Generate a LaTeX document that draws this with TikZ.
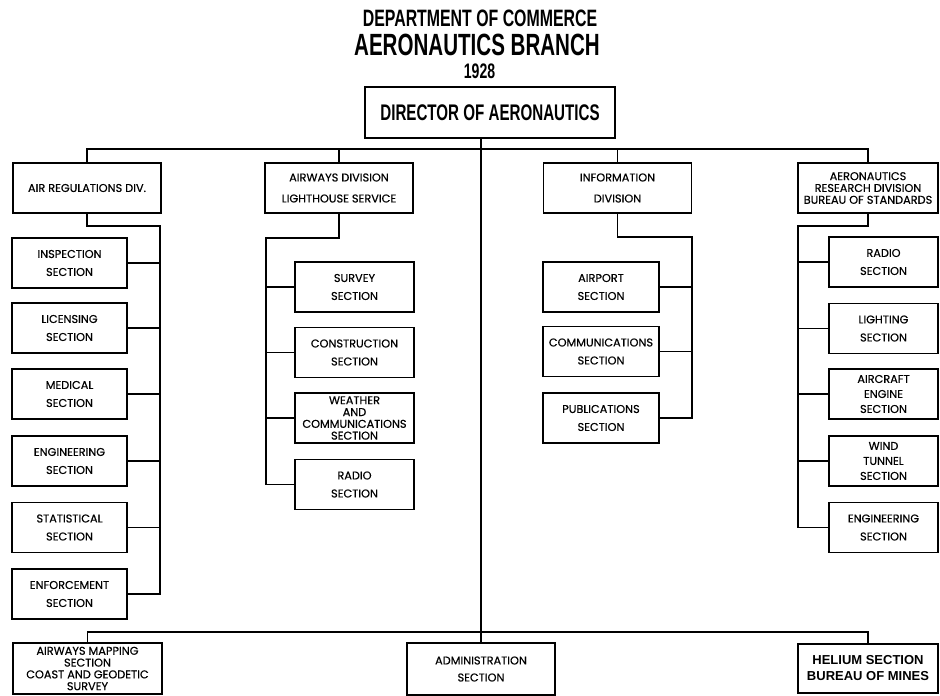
\documentclass[tikz,border=0pt]{standalone}
\usepackage{fontspec}
\newfontfamily\secfont[FakeBold=0.5]{Poppins}
\newfontfamily\headfont[FakeStretch=0.67]{Liberation Sans}
\newfontfamily\heliumfont{Liberation Sans}

\begin{document}
\begin{tikzpicture}[x=1pt, y=-1pt,
		box/.style={draw, line width=1.1pt, inner sep=0pt, align=center,
			font=\secfont\fontsize{11.3}{18}\selectfont},
		tight/.style={font=\secfont\fontsize{11.3}{11.8}\selectfont},
		loose/.style={font=\secfont\fontsize{11.3}{15}\selectfont},
		division/.style={box, minimum width=148pt, minimum height=50pt,
			font=\secfont\fontsize{11.3}{21}\selectfont},
		section/.style={box, minimum width=#1, minimum height=50pt},
		link/.style={line width=1.3pt},
		heading/.style={anchor=base, inner sep=0pt}]
		\useasboundingbox (0,0) rectangle (940,696);
		
		\node[heading, font=\headfont\bfseries\fontsize{23.7}{24}\selectfont] (dept) at (480,27) {DEPARTMENT OF COMMERCE};
		\node[heading, font=\headfont\bfseries\fontsize{30.7}{31}\selectfont] (branch) at (477,55) {AERONAUTICS BRANCH};
		\node[heading, font=\headfont\bfseries\fontsize{21}{22}\selectfont] (year) at (479.5,78) {1928};
		\node[box, minimum width=250pt, minimum height=51pt, font=\headfont\bfseries\fontsize{22.6}{23}\selectfont] (dir) at (490,112.5) {DIRECTOR OF AERONAUTICS};
		
		\node[division] (airreg) at (87,188) {AIR REGULATIONS DIV.};
		\node[division] (airways) at (339,188) {AIRWAYS DIVISION\\LIGHTHOUSE SERVICE};
		\node[division] (info) at (617.5,188) {INFORMATION\\DIVISION};
		\node[division, tight, minimum width=140pt] (research) at (868,188) {AERONAUTICS\\RESEARCH DIVISION\\BUREAU OF STANDARDS};
		
		\node[section=115pt] (insp) at (69.5,263) {INSPECTION\\SECTION};
		\node[section=115pt] (lic) at (69.5,328) {LICENSING\\SECTION};
		\node[section=115pt] (med) at (69.5,394) {MEDICAL\\SECTION};
		\node[section=115pt] (areng) at (69.5,461) {ENGINEERING\\SECTION};
		\node[section=115pt] (stat) at (69.5,527.5) {STATISTICAL\\SECTION};
		\node[section=115pt] (enf) at (69.5,594) {ENFORCEMENT\\SECTION};
		
		\node[section=119pt] (survey) at (354.5,287) {SURVEY\\SECTION};
		\node[section=119pt] (constr) at (354.5,352.5) {CONSTRUCTION\\SECTION};
		\node[section=119pt, tight] (weather) at (354.5,418) {WEATHER\\AND\\COMMUNICATIONS\\SECTION};
		\node[section=119pt] (awradio) at (354.5,484.5) {RADIO\\SECTION};
		
		\node[section=116pt] (airport) at (601,287) {AIRPORT\\SECTION};
		\node[section=116pt] (comm) at (601,351.5) {COMMUNICATIONS\\SECTION};
		\node[section=116pt] (pub) at (601,418) {PUBLICATIONS\\SECTION};
		
		\node[section=109pt] (reradio) at (883.5,262) {RADIO\\SECTION};
		\node[section=109pt] (light) at (883.5,328.5) {LIGHTING\\SECTION};
		\node[section=109pt, loose] (engine) at (883.5,394) {AIRCRAFT\\ENGINE\\SECTION};
		\node[section=109pt, loose] (tunnel) at (883.5,461) {WIND\\TUNNEL\\SECTION};
		\node[section=109pt] (reeng) at (883.5,527.5) {ENGINEERING\\SECTION};
		
		\node[box, tight, minimum width=149pt, minimum height=51pt] (mapping) at (87.5,668.5) {AIRWAYS MAPPING\\SECTION\\COAST AND GEODETIC\\SURVEY};
		\node[box, minimum width=148pt, minimum height=52pt, font=\secfont\fontsize{11.3}{17}\selectfont] (admin) at (481,669) {ADMINISTRATION\\SECTION};
		\node[box, minimum width=140pt, minimum height=49pt, font=\heliumfont\bfseries\fontsize{13}{16}\selectfont] (helium) at (868,668.5) {HELIUM SECTION\\BUREAU OF MINES};
		
		\coordinate (bus) at (0,149);
		\coordinate (lowbus) at (0,632);
		\draw[link] (airreg.north) -- (airreg.north |- bus) -- (research.north |- bus) -- (research.north);
		\draw[link] (airways.north) -- (airways.north |- bus);
		\draw[link] (info.north) -- (info.north |- bus);
		\draw[link] (dir.south -| admin.north) -- (admin.north);
		\draw[link] (mapping.north) -- (mapping.north |- lowbus) -- (helium.north |- lowbus) -- (helium.north);
		
		\coordinate (artrunk) at (160,226);
		\draw[link] (airreg.south) |- (artrunk) -- (artrunk |- enf.east) -- (enf.east);
		\draw[link] (insp.east) -- (insp.east -| artrunk);
		\draw[link] (lic.east) -- (lic.east -| artrunk);
		\draw[link] (med.east) -- (med.east -| artrunk);
		\draw[link] (areng.east) -- (areng.east -| artrunk);
		\draw[link] (stat.east) -- (stat.east -| artrunk);
		
		\coordinate (awtrunk) at (266,238);
		\draw[link] (airways.south) |- (awtrunk) -- (awtrunk |- awradio.west) -- (awradio.west);
		\draw[link] (survey.west) -- (survey.west -| awtrunk);
		\draw[link] (constr.west) -- (constr.west -| awtrunk);
		\draw[link] (weather.west) -- (weather.west -| awtrunk);
		
		\coordinate (intrunk) at (692,237);
		\draw[link] (info.south) |- (intrunk) -- (intrunk |- pub.east) -- (pub.east);
		\draw[link] (airport.east) -- (airport.east -| intrunk);
		\draw[link] (comm.east) -- (comm.east -| intrunk);
		
		\coordinate (retrunk) at (798,226);
		\draw[link] (research.south) |- (retrunk) -- (retrunk |- reeng.west) -- (reeng.west);
		\draw[link] (reradio.west) -- (reradio.west -| retrunk);
		\draw[link] (light.west) -- (light.west -| retrunk);
		\draw[link] (engine.west) -- (engine.west -| retrunk);
		\draw[link] (tunnel.west) -- (tunnel.west -| retrunk);
	\end{tikzpicture}
\end{document}
